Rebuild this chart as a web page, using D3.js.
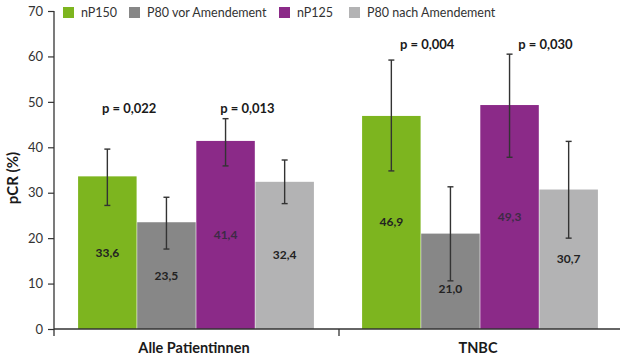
<!DOCTYPE html>
<html><head><meta charset="utf-8">
<script src="https://cdn.jsdelivr.net/npm/d3@7"></script>
<style>body{margin:0;background:#fff}svg{display:block}</style>
</head><body><svg id="c" width="620" height="359"></svg>
<script>
const categories = ["Alle Patientinnen", "TNBC"];
const seriesNames = ["nP150", "P80 vor Amendement", "nP125", "P80 nach Amendement"];
const colors = ["#7db51f", "#878787", "#8b2a88", "#b3b3b4"];
const values = [[33.6, 23.5, 41.4, 32.4], [46.9, 21.0, 49.3, 30.7]];
const valueLabels = [["33,6", "23,5", "41,4", "32,4"], ["46,9", "21,0", "49,3", "30,7"]];
const errLow = [[27.2, 17.6, 35.9, 27.6], [34.8, 10.6, 37.8, 20.0]];
const errHigh = [[39.6, 29.0, 46.3, 37.2], [59.2, 31.3, 60.5, 41.3]];
const pValues = [["p = 0,022", "p = 0,013"], ["p = 0,004", "p = 0,030"]];
const yTicks = [0, 10, 20, 30, 40, 50, 60, 70];

const svg = d3.select("#c");
const font = "Lato, 'Open Sans', sans-serif";
const y = d3.scaleLinear().domain([0, 70]).range([329, 11]);
const x0 = d3.scaleBand().domain(categories).range([54, 622]).paddingInner(0).paddingOuter(0);
const x1 = d3.scaleBand().domain(seriesNames).range([23.5, x0.bandwidth() - 23.5]).padding(0.01);

// axes
const yAxis = d3.axisLeft(y).tickValues(yTicks).tickSize(6).tickPadding(5).tickFormat(d3.format("d"));
const gy = svg.append("g").attr("transform", "translate(54,0)").call(yAxis);
gy.select(".domain").remove();
gy.selectAll(".tick line").attr("stroke", "#333").attr("stroke-width", 1.2);
gy.selectAll(".tick text").attr("fill", "#333").attr("font-family", font).attr("font-size", 13);
svg.append("line").attr("x1", 54).attr("x2", 54).attr("y1", y(70)).attr("y2", 336).attr("stroke", "#333").attr("stroke-width", 1.3);

const groups = svg.selectAll("g.grp").data(categories).enter().append("g")
  .attr("class", "grp").attr("transform", d => `translate(${x0(d)},0)`);

groups.each(function(cat, ci) {
  const g = d3.select(this);
  const data = seriesNames.map((s, si) => ({s, si, v: values[ci][si], lab: valueLabels[ci][si], lo: errLow[ci][si], hi: errHigh[ci][si]}));
  g.selectAll("rect").data(data).enter().append("rect")
    .attr("x", d => x1(d.s)).attr("width", x1.bandwidth())
    .attr("y", d => y(d.v)).attr("height", d => y(0) - y(d.v))
    .attr("fill", d => colors[d.si]);
  const labelY = d => {
    const mid = y(d.v / 2);
    return (mid >= y(d.hi) && mid <= y(d.lo) + 6) ? y(d.lo) + 8 : mid;
  };
  g.selectAll("text.val").data(data).enter().append("text").attr("class", "val")
    .attr("x", d => x1(d.s) + x1.bandwidth() / 2).attr("y", d => labelY(d) + 4)
    .attr("text-anchor", "middle").attr("font-family", font).attr("font-weight", "bold").attr("font-size", 12)
    .attr("fill", d => d.si === 2 ? "#3d2a45" : "#222").text(d => d.lab);
  const eb = g.selectAll("g.err").data(data).enter().append("g").attr("class", "err")
    .attr("stroke", "#333").attr("stroke-width", 1.4);
  eb.append("line").attr("x1", d => x1(d.s) + x1.bandwidth() / 2).attr("x2", d => x1(d.s) + x1.bandwidth() / 2)
    .attr("y1", d => y(d.lo)).attr("y2", d => y(d.hi));
  eb.append("line").attr("x1", d => x1(d.s) + x1.bandwidth() / 2 - 3).attr("x2", d => x1(d.s) + x1.bandwidth() / 2 + 3)
    .attr("y1", d => y(d.hi)).attr("y2", d => y(d.hi));
  eb.append("line").attr("x1", d => x1(d.s) + x1.bandwidth() / 2 - 3).attr("x2", d => x1(d.s) + x1.bandwidth() / 2 + 3)
    .attr("y1", d => y(d.lo)).attr("y2", d => y(d.lo));
  const top = d3.max(errHigh[ci]);
  pValues[ci].forEach((p, pi) => {
    const xm = x1(seriesNames[pi * 2 + 1]);
    g.append("text").attr("x", xm + (ci === 0 ? -8 : 6)).attr("y", y(top + 1.2))
      .attr("text-anchor", "middle").attr("font-family", font).attr("font-weight", "bold").attr("font-size", 13)
      .attr("fill", "#1a1a1a").text(p);
  });
  g.append("text").attr("x", x0.bandwidth() / 2 - 2).attr("y", 353)
    .attr("text-anchor", "middle").attr("font-family", font).attr("font-weight", "bold").attr("font-size", 14.5)
    .attr("fill", "#1a1a1a").text(cat);
});

// baseline and separator
svg.append("line").attr("x1", 54).attr("x2", 620).attr("y1", y(0)).attr("y2", y(0)).attr("stroke", "#333").attr("stroke-width", 1.3);
svg.append("line").attr("x1", x0(categories[1]) + 1).attr("x2", x0(categories[1]) + 1).attr("y1", y(0)).attr("y2", 336).attr("stroke", "#333").attr("stroke-width", 1.3);

// y title
svg.append("text").attr("transform", "translate(18,178) rotate(-90)").attr("text-anchor", "middle")
  .attr("font-family", font).attr("font-weight", "bold").attr("font-size", 15).attr("fill", "#1a1a1a").text("pCR (%)");

// legend
const legX = [63, 129, 279, 349];
const leg = svg.selectAll("g.leg").data(seriesNames).enter().append("g").attr("class", "leg")
  .attr("transform", (d, i) => `translate(${legX[i]},7)`);
leg.append("rect").attr("width", 11).attr("height", 11).attr("fill", (d, i) => colors[i]);
leg.append("text").attr("x", 18).attr("y", 10).attr("font-family", font).attr("font-size", 12.5)
  .attr("fill", "#333").text(d => d);
</script></body></html>
